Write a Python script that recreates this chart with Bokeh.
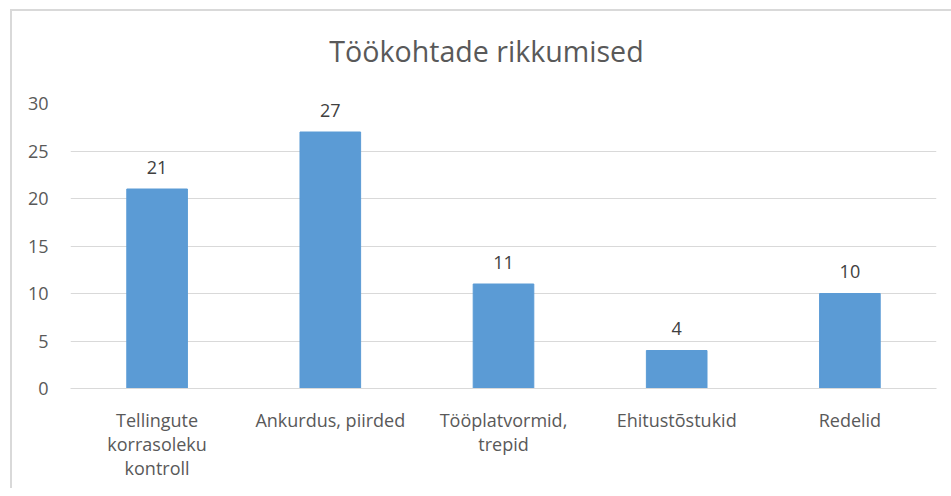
from bokeh.plotting import figure
from bokeh.models import ColumnDataSource, FactorRange, Range1d, FixedTicker, Div
from bokeh.layouts import column
from bokeh.core.properties import value
from bokeh.embed import file_html
from bokeh.resources import INLINE

title_text = "Töökohtade rikkumised"
categories = ["Tellingute\nkorrasoleku\nkontroll", "Ankurdus, piirded",
              "Tööplatvormid,\ntrepid", "Ehitustõstukid", "Redelid"]
counts = [21, 27, 11, 4, 10]
y_ticks = [0, 5, 10, 15, 20, 25, 30]

FONT = "Open Sans"
BAR = "#5B9BD5"
GRID = "#d9d9d9"
TXT = "#595959"

src = ColumnDataSource(dict(cat=categories, val=counts, lbl=[str(v) for v in counts]))

title = Div(text=title_text, width=931, height=60,
            styles={"font-family": "'Open Sans'", "font-size": "28.6px", "color": TXT,
                    "text-align": "center", "line-height": "40px",
                    "padding-top": "15px", "padding-left": "8px",
                    "box-sizing": "border-box", "background": "white"})

p = figure(x_range=FactorRange(*categories, range_padding=0),
           y_range=Range1d(0, 30),
           width=931, height=407,
           frame_width=866, frame_height=285,
           min_border_left=58, min_border_right=7,
           min_border_top=22, min_border_bottom=100,
           output_backend="svg", toolbar_location=None)

p.vbar(x="cat", top="val", width=0.35, source=src, color=BAR, line_color=BAR)
p.text(x="cat", y="val", text="lbl", source=src, y_offset=-22,
       text_align="center", text_baseline="alphabetic",
       text_font=value(FONT), text_font_size="18px", text_color="#404040")

p.outline_line_color = None
p.background_fill_color = "white"
p.border_fill_color = "white"

p.xgrid.grid_line_color = None
p.ygrid.grid_line_color = GRID
p.ygrid.grid_line_width = 1

p.yaxis.ticker = FixedTicker(ticks=y_ticks)
p.yaxis.axis_line_color = None
p.yaxis.major_tick_line_color = None
p.yaxis.minor_tick_line_color = None
p.yaxis.major_label_standoff = 16
p.yaxis.major_label_text_font = FONT
p.yaxis.major_label_text_font_size = "18px"
p.yaxis.major_label_text_color = TXT

p.xaxis.axis_line_color = GRID
p.xaxis.major_tick_line_color = None
p.xaxis.minor_tick_line_color = None
p.xaxis.major_label_standoff = 13
p.xaxis.major_label_text_font = FONT
p.xaxis.major_label_text_font_size = "18px"
p.xaxis.major_label_text_color = TXT
p.xaxis.major_label_text_line_height = 1.02

layout = column(title, p, spacing=0,
                styles={"border-left": "2px solid #d9d9d9", "border-top": "2px solid #d9d9d9",
                        "margin-left": "10px", "margin-top": "9px", "background": "white"})

open("out.html", "w").write(file_html(layout, INLINE))
